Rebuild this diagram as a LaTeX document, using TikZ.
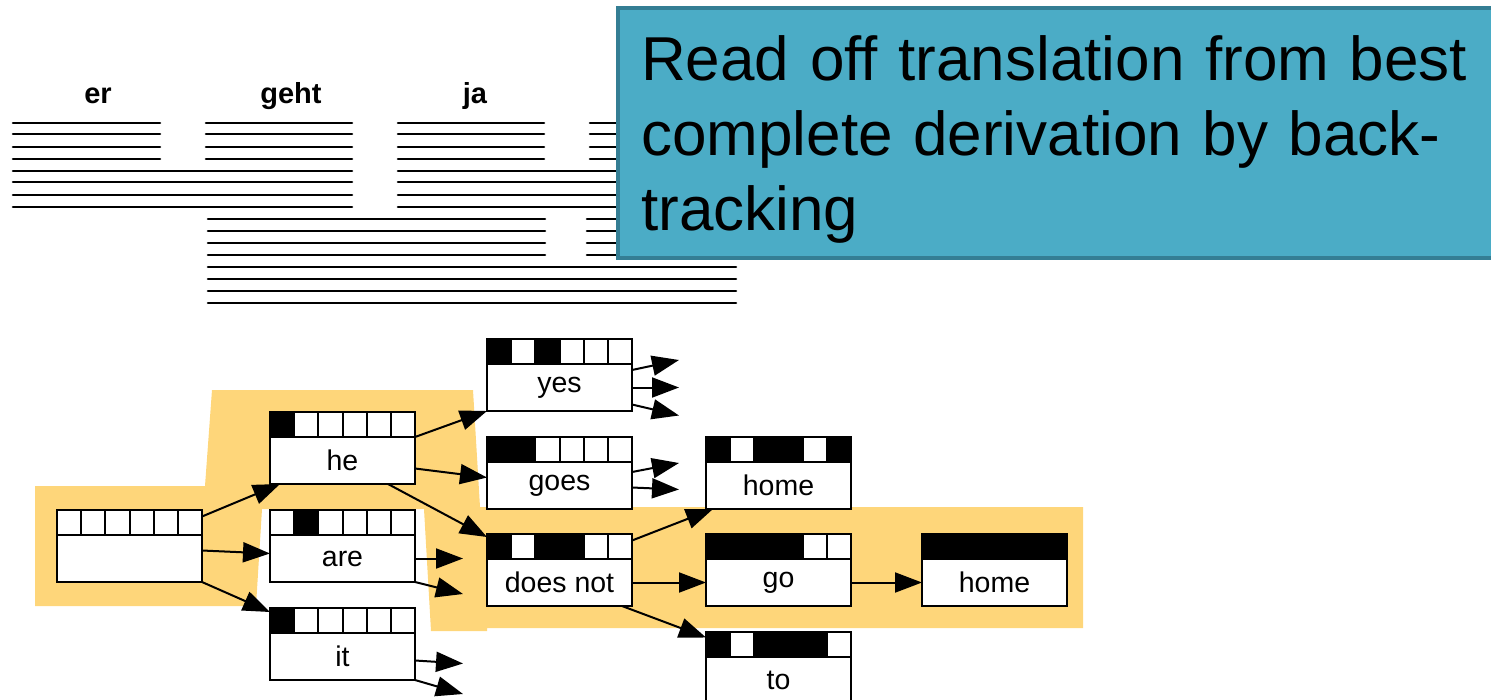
\documentclass[tikz,border=0pt]{standalone}
\usepackage{fontspec}
\setmainfont{Liberation Sans}
\usetikzlibrary{arrows.meta}
\usetikzlibrary{positioning}

\definecolor{hilite}{RGB}{254,214,122}
\definecolor{notefill}{RGB}{75,172,198}
\definecolor{noteline}{RGB}{52,126,148}

\tikzset{
  optline/.style={line width=2.6pt},
  word/.style={font=\fontsize{29}{30}\selectfont\bfseries, anchor=base, inner sep=0pt},
  cover/.style={draw, line width=2pt, minimum width=145pt, minimum height=25pt, inner sep=0pt, outer sep=0pt, anchor=north west},
  hyp/.style={draw, fill=white, line width=2pt, minimum width=145pt, minimum height=47pt, inner sep=0pt, outer sep=0pt, font=\fontsize{28.5}{30}\selectfont},
  arr/.style={->, line width=2pt},
  notebox/.style={fill=notefill, draw=noteline, line width=3.5pt},
  notetext/.style={font=\fontsize{62}{75}\selectfont, text width=840pt, align=left, inner sep=0pt, anchor=base west},
}

% hypothesis: name, left x, top y, coverage bits, output word
\newcommand{\hypo}[5]{%
  \fill[white] (#2,#3) rectangle ++(145,25);
  \foreach \cv [count=\i from 0] in {#4} {
    \ifnum\cv=1 \fill (#2+\i*24.1667,#3) rectangle ++(24.1667,25); \fi
  }
  \foreach \i in {1,...,5} \draw[line width=2pt] (#2+\i*24.1667,#3) -- ++(0,25);
  \node[cover] (#1-c) at (#2,#3) {};
  \node[hyp, below=0pt of #1-c] (#1) {#5};
}

\begin{document}
\begin{tikzpicture}[x=1pt,y=-1pt,line cap=round,line join=miter,>={Triangle[length=27pt,width=20pt]}]
\useasboundingbox (0,0) rectangle (1491,699);
% best path
\fill[hilite] (35,486) -- (205,486) -- (212,390) -- (473,390) -- (480,507) -- (1083,507) -- (1083,628) -- (487,628) -- (487,631) -- (431,631) -- (424,509) -- (262,509) -- (256,606) -- (35,606) -- cycle;
% translation options
\node[word] (er) at (98,103) {er};
\node[word] (geht) at (291,103) {geht};
\node[word] (ja) at (475,103) {ja};
\foreach \y in {123,134,147,159} {
  \draw[optline] (13,\y) -- (160,\y);
  \draw[optline] (206,\y) -- (352,\y);
  \draw[optline] (398,\y) -- (544,\y);
  \draw[optline] (590,\y) -- (640,\y);
}
\foreach \y in {171,182,195,207} {
  \draw[optline] (13,\y) -- (352,\y);
  \draw[optline] (398,\y) -- (640,\y);
}
\foreach \y in {219,231,243,255} {
  \draw[optline] (208,\y) -- (545,\y);
  \draw[optline] (587,\y) -- (640,\y);
}
\foreach \y in {267,279,291,303}
  \draw[optline] (208,\y) -- (736,\y);
% note
\draw[notebox] (618,8) rectangle (1510,258);
\node[notetext] (note) at (641,80) {Read off translation from best\\complete derivation by back-\\tracking};
% search graph
\hypo{empty}{57}{510}{0,0,0,0,0,0}{}
\hypo{he}{270}{412}{1,0,0,0,0,0}{he}
\hypo{are}{270}{510}{0,1,0,0,0,0}{are}
\hypo{it}{270}{608}{1,0,0,0,0,0}{it}
\hypo{yes}{487}{339}{1,0,1,0,0,0}{yes}
\hypo{goes}{487}{437}{1,1,0,0,0,0}{goes}
\hypo{dn}{487}{534}{1,0,1,1,0,0}{does not}
\hypo{home1}{706}{437}{1,0,1,1,0,1}{home}
\hypo{go}{706}{534}{1,1,1,1,0,0}{go}
\hypo{to}{706}{632}{1,0,1,1,1,0}{to}
\hypo{home2}{922}{534}{1,1,1,1,1,1}{home}
\draw[arr] ([yshift=6pt]empty-c.east) -- ([xshift=10pt]he.south west);
\draw[arr] ([yshift=8pt]empty.east) -- ([yshift=5pt]are.west);
\draw[arr] (empty.south east) -- ([yshift=-4pt]it-c.north west);
\draw[arr] (he-c.south east) -- (yes.south west);
\draw[arr] ([yshift=-8pt]he.east) -- ([yshift=8pt]goes.west);
\draw[arr] ([xshift=-27pt]he.south east) -- ([yshift=-3pt]dn-c.north west);
\draw[arr] ([yshift=6pt]dn-c.east) -- ([xshift=7pt]home1.south west);
\draw[arr] (dn.east) -- (go.west);
\draw[arr] ([xshift=-10pt]dn.south east) -- ([yshift=7pt]to-c.west);
\draw[arr] (go.east) -- (home2.west);
% open ends
\draw[arr] (are.east) -- ++(48,0);
\draw[arr] (are.south east) -- ++(48,12);
\draw[arr] ([yshift=-4pt]it.east) -- ++(48,3);
\draw[arr] (it.south east) -- ++(48,14);
\draw[arr] ([yshift=-6pt]yes.north east) -- ++(47,-10);
\draw[arr] (yes.east) -- ++(47,0);
\draw[arr] ([yshift=-17pt]yes.east) -- ++(47,11);
\draw[arr] ([yshift=-10pt]goes.north east) -- ++(47,-9);
\draw[arr] ([yshift=-2pt]goes.east) -- ++(47,2);
\end{tikzpicture}
\end{document}
